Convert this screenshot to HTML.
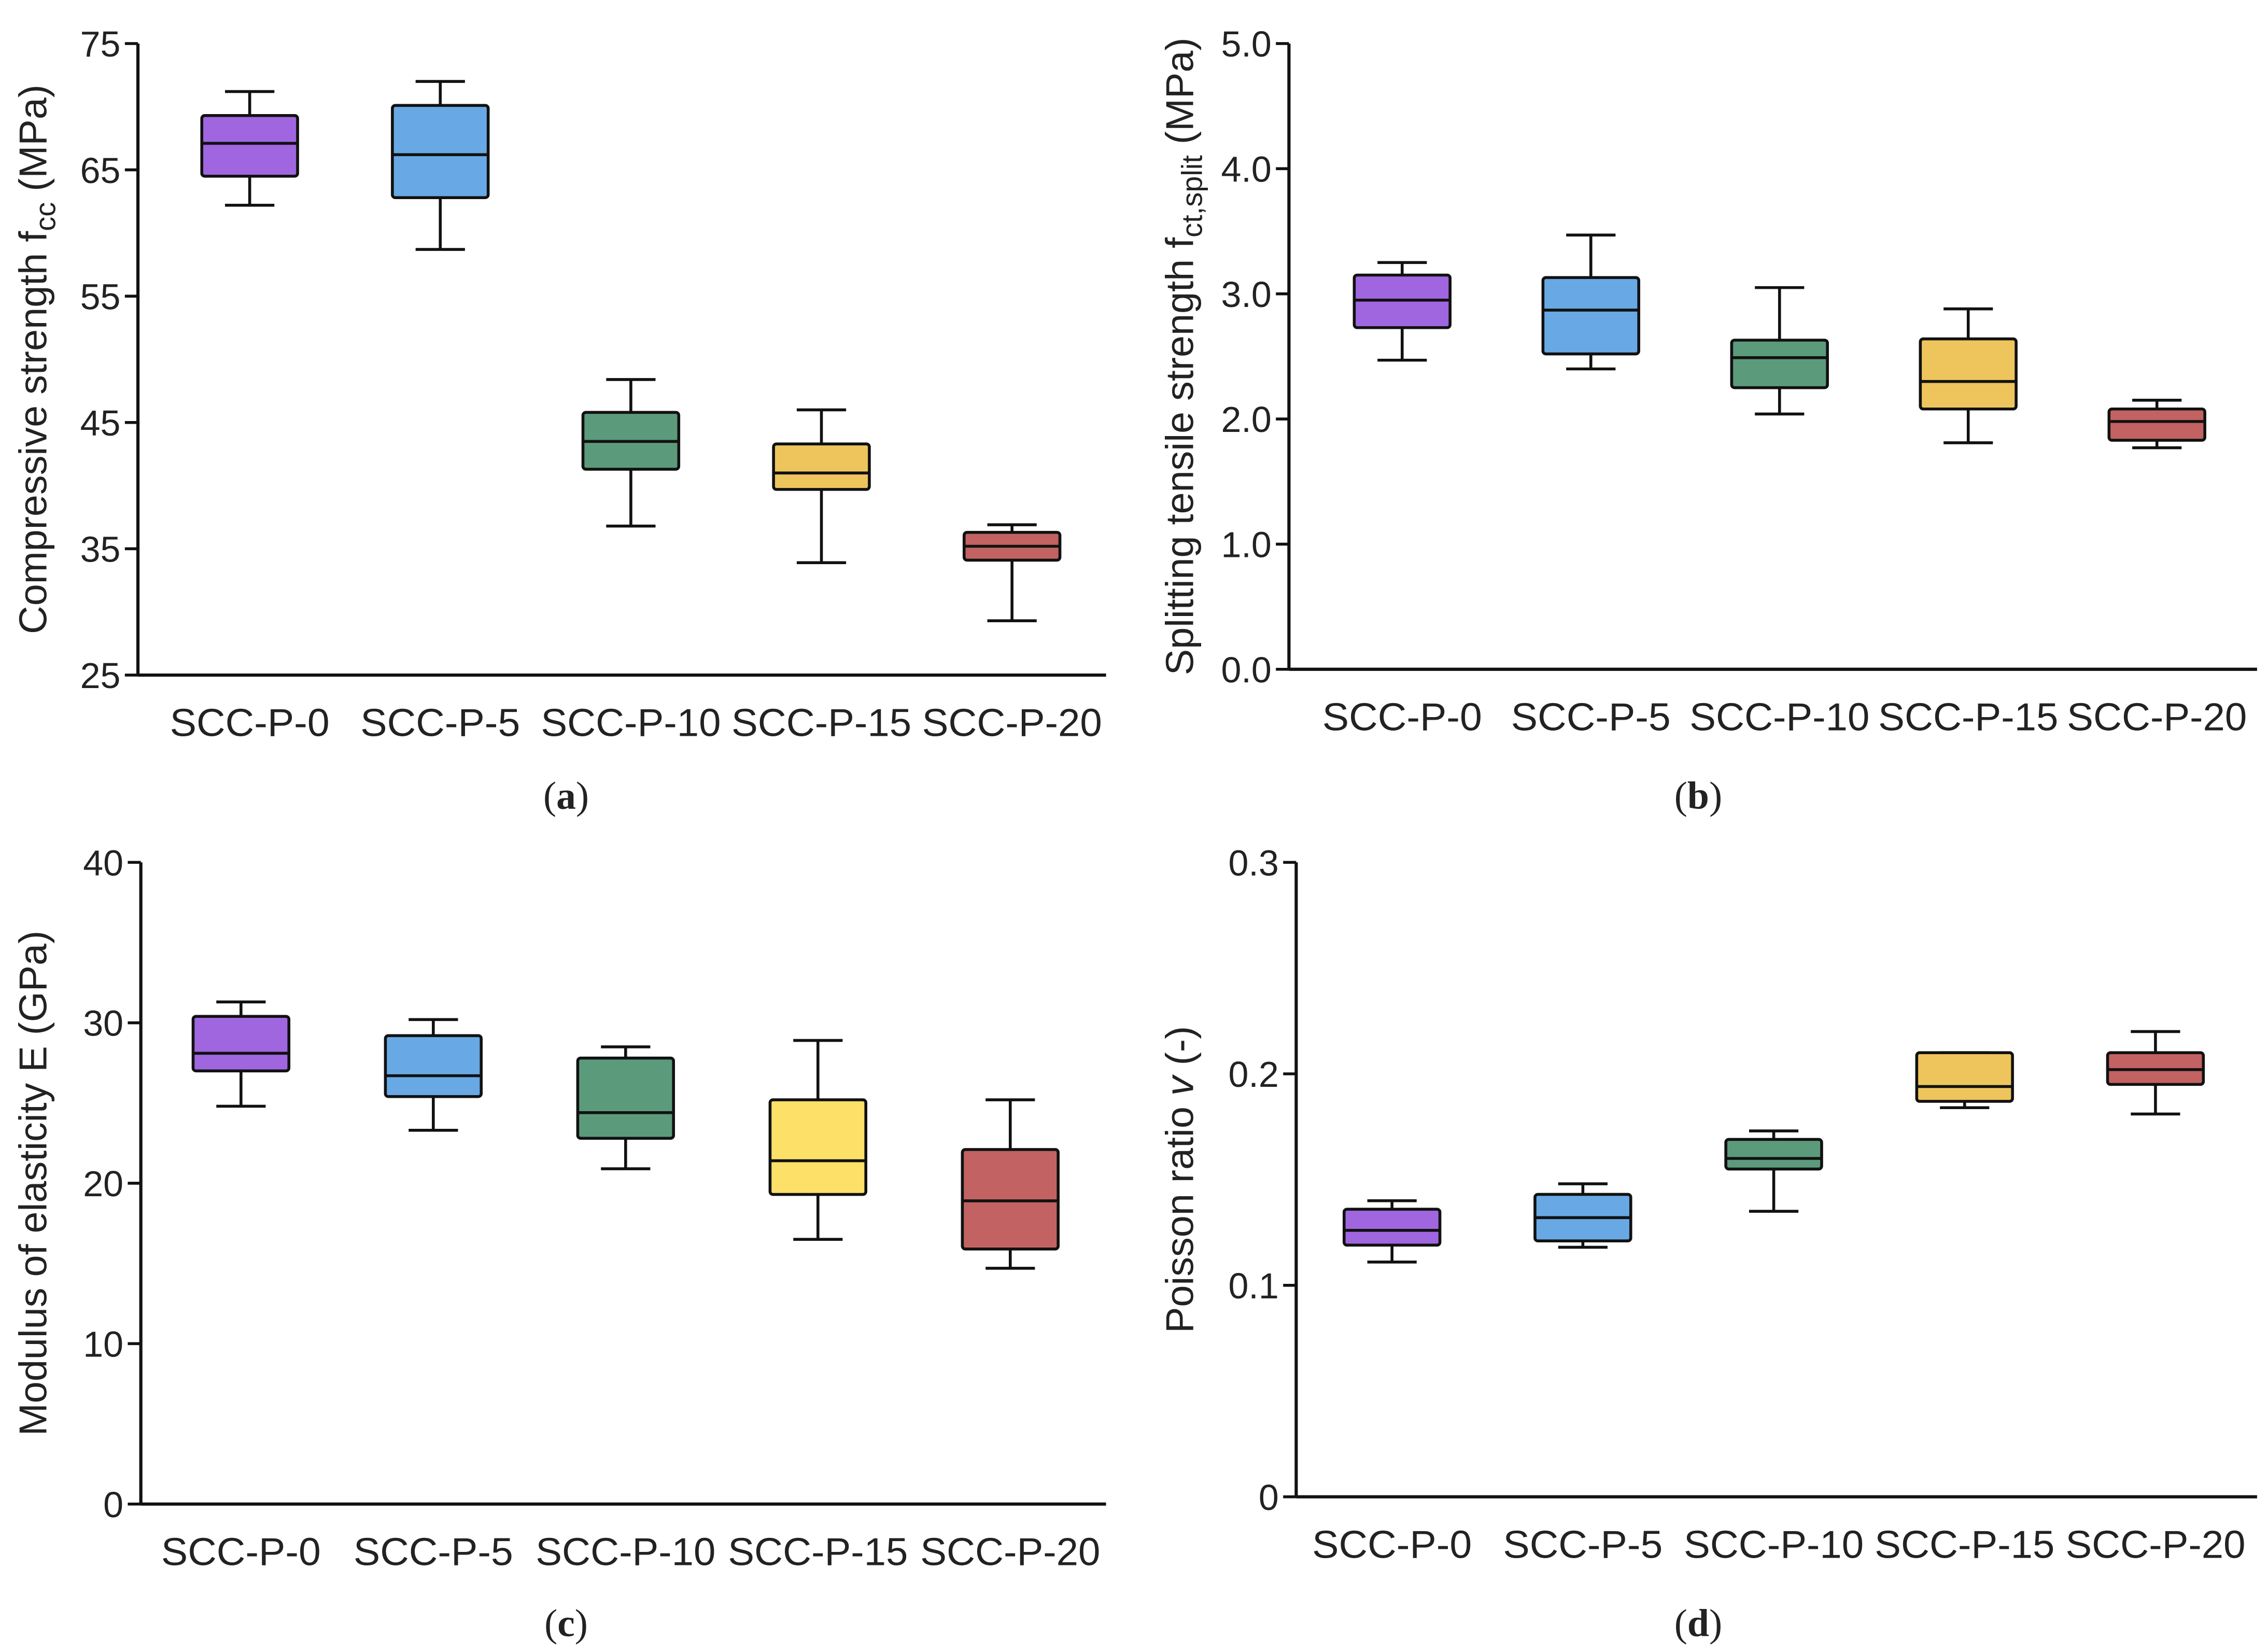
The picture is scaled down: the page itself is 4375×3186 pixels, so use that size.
<!DOCTYPE html>
<html><head><meta charset="utf-8"><style>
html,body{margin:0;padding:0;background:#fff;}
svg{display:block;}
text{font-family:"Liberation Sans",Arial,sans-serif;fill:#222;}
</style></head><body>
<svg id="fig" width="4375" height="3186" viewBox="0 0 1562.5 1137.9" xmlns="http://www.w3.org/2000/svg"></svg>
<script>
const categories = ["SCC-P-0","SCC-P-5","SCC-P-10","SCC-P-15","SCC-P-20"];
// panel a: compressive strength
const aMin=[62.2,58.7,36.8,33.9,29.3], aQ1=[64.5,62.8,41.3,39.7,34.1], aMed=[67.1,66.2,43.5,41.0,35.2], aQ3=[69.3,70.1,45.8,43.3,36.3], aMax=[71.2,72.0,48.4,46.0,36.9];
const aTicks=[25,35,45,55,65,75];
// panel b: splitting tensile strength
const bMin=[2.47,2.40,2.04,1.81,1.77], bQ1=[2.73,2.52,2.25,2.08,1.83], bMed=[2.95,2.87,2.49,2.30,1.98], bQ3=[3.15,3.13,2.63,2.64,2.08], bMax=[3.25,3.47,3.05,2.88,2.15];
const bTicks=["0.0","1.0","2.0","3.0","4.0","5.0"];
// panel c: modulus of elasticity
const cMin=[24.8,23.3,20.9,16.5,14.7], cQ1=[27.0,25.4,22.8,19.3,15.9], cMed=[28.1,26.7,24.4,21.4,18.9], cQ3=[30.4,29.2,27.8,25.2,22.1], cMax=[31.3,30.2,28.5,28.9,25.2];
const cTicks=[0,10,20,30,40];
// panel d: Poisson ratio
const dMin=[0.111,0.118,0.135,0.184,0.181], dQ1=[0.119,0.121,0.155,0.187,0.195], dMed=[0.126,0.132,0.160,0.194,0.202], dQ3=[0.136,0.143,0.169,0.210,0.210], dMax=[0.140,0.148,0.173,0.210,0.220];
const dTicks=["0","0.1","0.2","0.3"];

const NS="http://www.w3.org/2000/svg";
const svg=document.getElementById('fig');
function mk(tag,attrs,parent){const e=document.createElementNS(NS,tag);for(const k in attrs)e.setAttribute(k,attrs[k]);(parent||svg).appendChild(e);return e;}

function panel(p){
  const g=mk('g',{});
  
  
  const Y=v=>p.y0-(v-p.vmin)/(p.vmax-p.vmin)*(p.y0-p.y1);
  const X=i=>p.xc0+i*p.dx;
  const ya=mk('line',{x1:p.ax,y1:p.y1,x2:p.ax,y2:p.y0,stroke:'#111','stroke-width':2.2},g);
  
  
  const xa=mk('line',{x1:p.ax,y1:p.y0,x2:p.xend,y2:p.y0,stroke:'#111','stroke-width':2.2},g);
  
  
  p.ticks.forEach(t=>{
    const v=parseFloat(t);
    mk('line',{x1:p.ax-9,y1:Y(v),x2:p.ax,y2:Y(v),stroke:'#111','stroke-width':2},g);
    const tx=mk('text',{x:p.ax-12,y:Y(v)+9,'text-anchor':'end','font-size':25},g);
    tx.textContent=t;
    
    
  });
  categories.forEach((c,i)=>{
    const tx=mk('text',{x:X(i),y:p.y0+42,'text-anchor':'middle','font-size':27,textLength:(c.length>7?124:110),lengthAdjust:'spacingAndGlyphs'},g);
    tx.textContent=c;
    
    
    const bg=mk('g',{},g);
    
    
    const xc=X(i),hw=33,cw=17;
    const s={stroke:'#111','stroke-width':2};
    mk('line',Object.assign({x1:xc,y1:Y(p.max[i]),x2:xc,y2:Y(p.q3[i])},s),bg);
    mk('line',Object.assign({x1:xc,y1:Y(p.q1[i]),x2:xc,y2:Y(p.min[i])},s),bg);
    mk('line',Object.assign({x1:xc-cw,y1:Y(p.max[i]),x2:xc+cw,y2:Y(p.max[i])},s),bg);
    mk('line',Object.assign({x1:xc-cw,y1:Y(p.min[i]),x2:xc+cw,y2:Y(p.min[i])},s),bg);
    mk('rect',Object.assign({x:xc-hw,y:Y(p.q3[i]),width:2*hw,height:Y(p.q1[i])-Y(p.q3[i]),fill:p.colors[i],rx:2},s),bg);
    mk('line',Object.assign({x1:xc-hw,y1:Y(p.med[i]),x2:xc+hw,y2:Y(p.med[i])},s),bg);
  });
  const tt=mk('text',{transform:`translate(${p.tx},${(p.y0+p.y1)/2}) rotate(-90)`,'text-anchor':'middle','font-size':27},g);
  tt.innerHTML=p.title;
  
  
  const cap=mk('text',{x:p.capx,y:p.capy,'text-anchor':'middle','font-size':27,style:'font-family:"Liberation Serif",serif'},g);
  cap.innerHTML=p.cap;
  
  
}
const c1=['#a066e0','#68a8e4','#5c9a7c','#eec55c','#c26262'];
const c2=['#a066e0','#68a8e4','#5c9a7c','#fde068','#c26262'];
panel({name:'panel-a-compressive',ax:95,xend:762,y0:465,y1:30,vmin:25,vmax:75,ticks:aTicks.map(String),xc0:172,dx:131.3,min:aMin,q1:aQ1,med:aMed,q3:aQ3,max:aMax,colors:c1,tx:32,title:'Compressive strength f<tspan font-size="20" dy="6">cc</tspan><tspan dy="-6"> (MPa)</tspan>',cap:'(<tspan font-weight="bold">a</tspan>)',capx:390,capy:557});
panel({name:'panel-b-tensile',ax:888,xend:1555,y0:461,y1:30,vmin:0,vmax:5,ticks:bTicks,xc0:966,dx:130,min:bMin,q1:bQ1,med:bMed,q3:bQ3,max:bMax,colors:c1,tx:822,title:'Splitting tensile strength f<tspan font-size="20" dy="6">ct,split</tspan><tspan dy="-6"> (MPa)</tspan>',cap:'(<tspan font-weight="bold">b</tspan>)',capx:1170,capy:557});
panel({name:'panel-c-modulus',ax:97,xend:762,y0:1036,y1:594,vmin:0,vmax:40,ticks:cTicks.map(String),xc0:166,dx:132.5,min:cMin,q1:cQ1,med:cMed,q3:cQ3,max:cMax,colors:c2,tx:32,title:'Modulus of elasticity E (GPa)',cap:'(<tspan font-weight="bold">c</tspan>)',capx:390,capy:1127});
panel({name:'panel-d-poisson',ax:893,xend:1555,y0:1031,y1:594,vmin:0,vmax:0.3,ticks:dTicks,xc0:959,dx:131.5,min:dMin,q1:dQ1,med:dMed,q3:dQ3,max:dMax,colors:c1,tx:822,title:'Poisson ratio <tspan font-style="italic">v</tspan> (-)',cap:'(<tspan font-weight="bold">d</tspan>)',capx:1170,capy:1127});
</script>
</body></html>
